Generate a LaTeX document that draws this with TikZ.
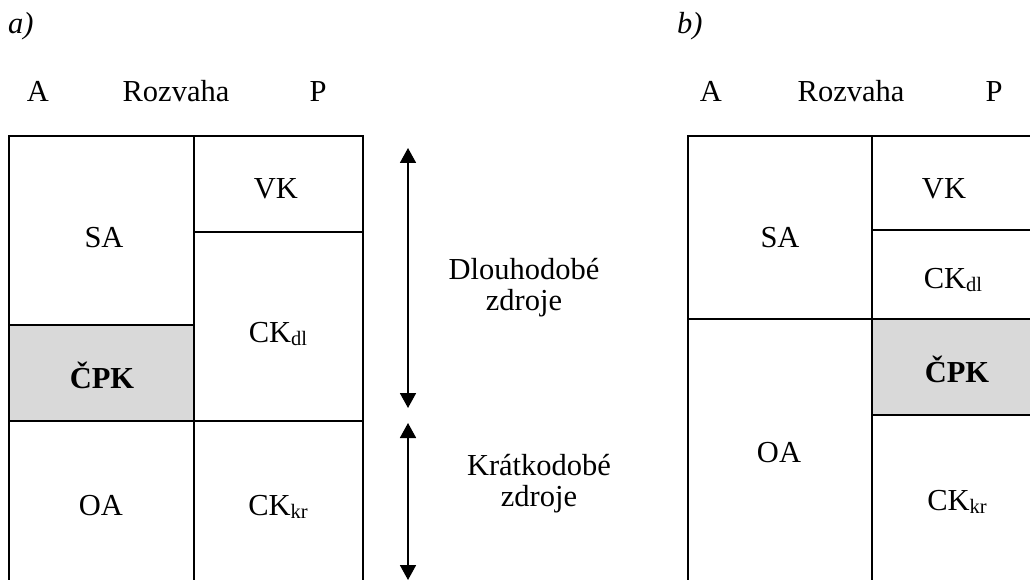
\documentclass[tikz,border=0pt]{standalone}
\usepackage{fontspec}
\setmainfont{Liberation Serif}
\usetikzlibrary{arrows.meta}
\newcommand\subtxt[1]{\raisebox{-3.5pt}{\fontsize{20.5}{20.5}\selectfont #1}}
\tikzset{
  grid/.style={line width=1.5pt, line cap=rect},
  lbl/.style={font=\fontsize{30.5}{30.5}\selectfont, inner sep=0pt, anchor=base},
  twoline/.style={font=\fontsize{30.5}{31}\selectfont, inner sep=0pt, align=center, anchor=base},
  dblarrow/.style={line width=1.8pt, {Triangle[width=16pt,length=15pt]}-{Triangle[width=16pt,length=15pt]}},
  shade/.style={fill=black!15}
}
\begin{document}
\begin{tikzpicture}[x=1pt,y=-1pt]
\path[use as bounding box, clip] (0,0) rectangle (1030,580);
\fill[white] (0,0) rectangle (1030,580);
% ---- a) ----
\fill[shade] (9,325) rectangle (194,421);
\draw[grid] (9,600) -- (9,136) -- (363,136) -- (363,600);
\draw[grid] (194,136) -- (194,600);
\draw[grid] (194,232) -- (363,232);
\draw[grid] (9,325) -- (194,325);
\draw[grid] (9,421) -- (363,421);
\node[lbl, anchor=base west] (la) at (8,34) {\itshape a)};
\node[lbl] (aA) at (38,102) {A};
\node[lbl] (aR) at (176,102) {Rozvaha};
\node[lbl] (aP) at (318,102) {P};
\node[lbl] (aVK) at (276,198) {VK};
\node[lbl] (aSA) at (104,247) {SA};
\node[lbl] (aCKdl) at (278,342) {CK\subtxt{dl}};
\node[lbl] (aCPK) at (102,388) {\bfseries ČPK};
\node[lbl] (aOA) at (101,515) {OA};
\node[lbl] (aCKkr) at (278,515) {CK\subtxt{kr}};
% arrows
\coordinate (u1) at (408,148);
\coordinate (u2) at (408,408);
\coordinate (d1) at (408,423);
\coordinate (d2) at (408,580);
\draw[dblarrow] (u1) -- (u2);
\draw[dblarrow] (d1) -- (d2);
\node[twoline] (dz) at (524,310) {Dlouhodobé\\zdroje};
\node[twoline] (kz) at (539,506) {Krátkodobé\\zdroje};
% ---- b) ----
\fill[shade] (872,319) rectangle (1060,415);
\draw[grid] (688,600) -- (688,136) -- (1060,136);
\draw[grid] (872,136) -- (872,600);
\draw[grid] (872,230) -- (1060,230);
\draw[grid] (688,319) -- (1060,319);
\draw[grid] (872,415) -- (1060,415);
\node[lbl, anchor=base west] (lb) at (677,34) {\itshape b)};
\node[lbl] (bA) at (711,102) {A};
\node[lbl] (bR) at (851,102) {Rozvaha};
\node[lbl] (bP) at (994,102) {P};
\node[lbl] (bVK) at (944,198) {VK};
\node[lbl] (bSA) at (780,247) {SA};
\node[lbl] (bCKdl) at (953,288) {CK\subtxt{dl}};
\node[lbl] (bCPK) at (957,382) {\bfseries ČPK};
\node[lbl] (bOA) at (779,462) {OA};
\node[lbl] (bCKkr) at (957,510) {CK\subtxt{kr}};
\end{tikzpicture}
\end{document}
